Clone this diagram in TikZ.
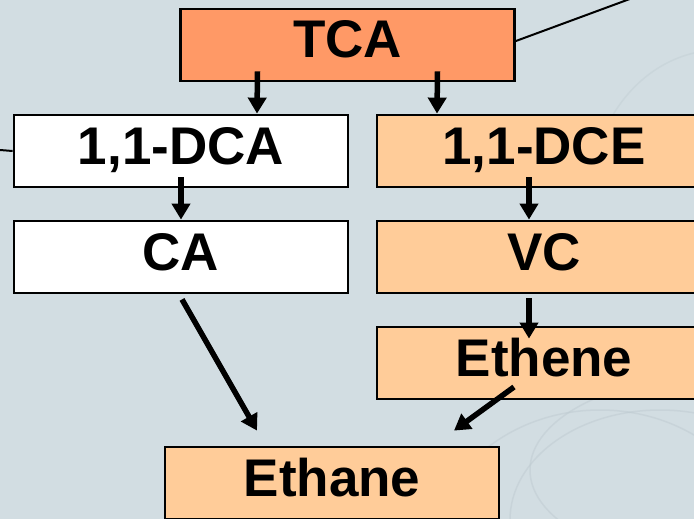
\documentclass[tikz,border=0pt]{standalone}
\usepackage{fontspec}
\setmainfont{Liberation Sans}
\usetikzlibrary{arrows.meta}

\definecolor{bgblue}{HTML}{D2DDE2}
\definecolor{swirl}{HTML}{BCC9CF}
\definecolor{tcaorange}{HTML}{FF9966}
\definecolor{peach}{HTML}{FFCC99}

\tikzset{
	compound/.style = {draw, line width = 2.8pt, minimum width = 334pt, minimum height = 72pt,
		inner sep = 0pt, text height = 38pt, text depth = 12pt,
		font = \fontsize{53}{60}\selectfont\bfseries},
	arr/.style = {line width = 5.5pt, -{Triangle[width=18pt,length=16pt]}},
	thinline/.style = {line width = 2pt}
}

\begin{document}
\begin{tikzpicture}[x = 1pt, y = -1pt]
	\fill [bgblue] (0,0) rectangle (694,519);
	\useasboundingbox (0,0) rectangle (694,519);
	% faint swirls in the background
	\begin{scope}[swirl, line width = 1.5pt, opacity = 0.45]
		\clip (430,330) rectangle (694,519);
		\draw (660,520) ellipse (150pt and 110pt);
		\draw (600,560) ellipse (170pt and 150pt);
		\draw (720,470) ellipse (190pt and 95pt);
	\end{scope}
	\begin{scope}[swirl, line width = 1.5pt, opacity = 0.35]
		\clip (580,20) rectangle (694,120);
		\draw (720,200) ellipse (130pt and 150pt);
	\end{scope}

	% the compounds
	\node [compound, fill = tcaorange] (tca) at (347.5,45) {TCA};
	\node [compound, fill = white] (dca) at (181,151) {1,1-DCA};
	\node [compound, fill = peach] (dce) at (544,151) {1,1-DCE};
	\node [compound, fill = white] (ca) at (181,257) {CA};
	\node [compound, fill = peach] (vc) at (544,257) {VC};
	\node [compound, fill = peach] (ethene) at (544,363) {Ethene};
	\node [compound, fill = peach] (ethane) at (332,483) {Ethane};

	% free ends of the two side lines
	\coordinate (tcaend) at (684,-21);
	\coordinate (dcaend) at (0,150);
	\draw [thinline] ([yshift=4pt]tca.east) -- (tcaend);
	\draw [thinline] (dcaend) -- (dca.west);

	% degradation steps
	\draw [arr] ([xshift=-90pt,yshift=11pt]tca.south) -- ([xshift=76pt]dca.north);
	\draw [arr] ([xshift=90pt,yshift=11pt]tca.south) -- ([xshift=-107pt]dce.north);
	\draw [arr] ([yshift=11pt]dca.south) -- (ca.north);
	\draw [arr] ([xshift=-15pt,yshift=11pt]dce.south) -- ([xshift=-15pt]vc.north);
	\draw [arr] ([xshift=-15pt,yshift=-4pt]vc.south) -- ([xshift=-15pt,yshift=-13pt]ethene.north);
	\draw [arr] ([xshift=1pt,yshift=-5pt]ca.south) -- ([xshift=-75pt,yshift=15pt]ethane.north);
	\draw [arr] ([xshift=-30pt,yshift=-24pt]ethene.center) -- ([xshift=122pt,yshift=15pt]ethane.north);
\end{tikzpicture}
\end{document}
